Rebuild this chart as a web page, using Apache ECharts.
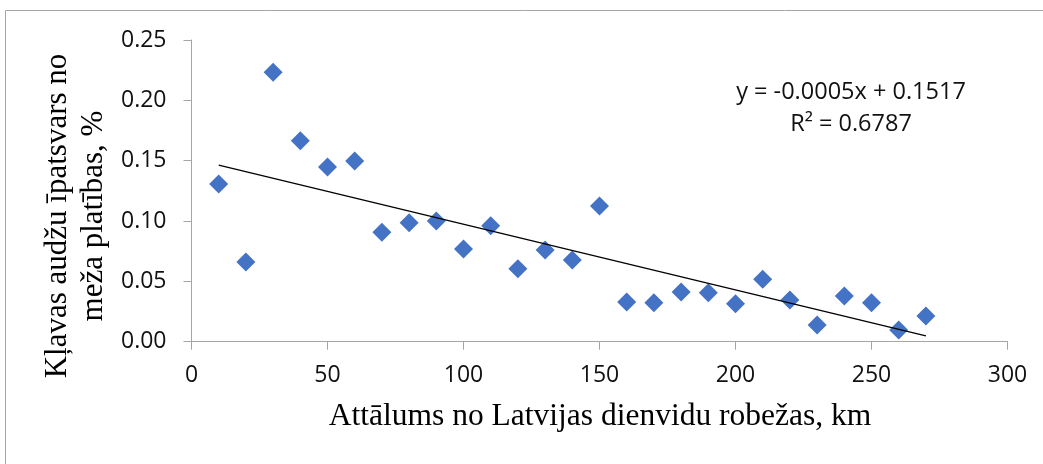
<!DOCTYPE html>
<html>
<head>
<meta charset="utf-8">
<script src="https://cdn.jsdelivr.net/npm/echarts@6/dist/echarts.min.js"></script>
<style>
html,body{margin:0;padding:0;background:#fff;}
#chart{width:1043px;height:464px;}
</style>
</head>
<body>
<div id="chart"></div>
<script>
// Distance from the southern border of Latvia, km
const distances = [10, 20, 30, 40, 50, 60, 70, 80, 90, 100, 110, 120, 130, 140, 150, 160, 170, 180, 190, 200, 210, 220, 230, 240, 250, 260, 270];
// Share of maple stands in forest area, %
const shares = [0.1307, 0.0660, 0.2232, 0.1666, 0.1448, 0.1497, 0.0907, 0.0986, 0.1000, 0.0768, 0.0961, 0.0605, 0.0760, 0.0677, 0.1124, 0.0329, 0.0323, 0.0412, 0.0406, 0.0315, 0.0517, 0.0346, 0.0138, 0.0379, 0.0323, 0.0097, 0.0213];
const xTicks = [0, 50, 100, 150, 200, 250, 300];
const yTicks = [0.00, 0.05, 0.10, 0.15, 0.20, 0.25];
const xTitle = 'Attālums no Latvijas dienvidu robežas, km';
const yTitle = 'Kļavas audžu īpatsvars no\nmeža platības, %';
const equationText = 'y = -0.0005x + 0.1517\nR² = 0.6787';

// linear regression (trendline) computed from the data
const n = distances.length;
let sx = 0, sy = 0, sxx = 0, sxy = 0;
for (let i = 0; i < n; i++) {
  sx += distances[i]; sy += shares[i];
  sxx += distances[i] * distances[i]; sxy += distances[i] * shares[i];
}
const slope = (n * sxy - sx * sy) / (n * sxx - sx * sx);
const intercept = (sy - slope * sx) / n;
const xMinData = Math.min(...distances), xMaxData = Math.max(...distances);
const trend = [[xMinData, intercept + slope * xMinData], [xMaxData, intercept + slope * xMaxData]];

const chart = echarts.init(document.getElementById('chart'));
const tickFont = '"Open Sans", "Liberation Sans", sans-serif';
const serif = '"Liberation Serif", "DejaVu Serif", serif';

chart.setOption({
  animation: false,
  backgroundColor: '#fff',
  grid: { left: 191.5, right: 35.5, top: 40, bottom: 122.3, containLabel: false },
  xAxis: {
    type: 'value', min: xTicks[0], max: xTicks[xTicks.length - 1], interval: xTicks[1] - xTicks[0],
    axisLine: { show: true, lineStyle: { color: '#a6a6a6', width: 1 } },
    axisTick: { show: true, length: 8, inside: false, lineStyle: { color: '#a6a6a6' } },
    splitLine: { show: false },
    axisLabel: { fontFamily: tickFont, fontSize: 23, color: '#111', margin: 22 }
  },
  yAxis: {
    type: 'value', min: yTicks[0], max: yTicks[yTicks.length - 1], interval: 0.05,
    axisLine: { show: true, lineStyle: { color: '#a6a6a6', width: 1 } },
    axisTick: { show: true, length: 8, inside: false, lineStyle: { color: '#a6a6a6' } },
    splitLine: { show: false },
    axisLabel: { fontFamily: tickFont, fontSize: 23, color: '#111', margin: 25, formatter: v => v.toFixed(2) }
  },
  series: [
    {
      type: 'scatter', data: distances.map((d, i) => [d, shares[i]]),
      symbol: 'diamond', symbolSize: 19,
      itemStyle: { color: '#4472C4', opacity: 1 }, z: 2
    },
    {
      type: 'line', data: trend, showSymbol: false, symbol: 'none',
      lineStyle: { color: '#000', width: 1.3 }, z: 3, silent: true
    }
  ],
  graphic: [
    { type: 'rect', shape: { x: 5.5, y: 10.5, width: 1200, height: 700 }, style: { fill: 'none', stroke: '#a6a6a6', lineWidth: 1 }, silent: true, z: 0 },
    { type: 'text', x: 600, y: 417, style: { text: xTitle, font: '31.5px ' + serif, fill: '#000', textAlign: 'center', textVerticalAlign: 'middle' } },
    { type: 'text', x: 76, y: 216, rotation: Math.PI / 2, style: { text: yTitle, font: '31px ' + serif, fill: '#000', textAlign: 'center', textVerticalAlign: 'middle', lineHeight: 36 } },
    { type: 'text', x: 851, y: 108, style: { text: equationText, font: '23.5px ' + tickFont, fill: '#111', textAlign: 'center', textVerticalAlign: 'middle', lineHeight: 32 } }
  ]
});
</script>
</body>
</html>
